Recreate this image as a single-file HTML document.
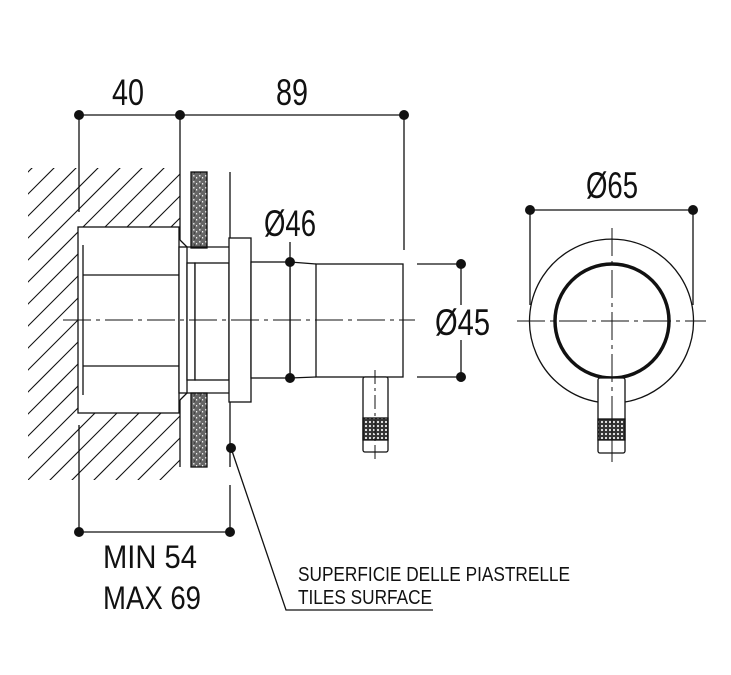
<!DOCTYPE html>
<html><head><meta charset="utf-8"><style>
html,body{margin:0;padding:0;background:#fff;width:731px;height:675px;overflow:hidden}
text{font-family:"Liberation Sans",sans-serif;fill:#111}
</style></head><body>
<svg width="731" height="675" viewBox="0 0 731 675" xmlns="http://www.w3.org/2000/svg">
<defs>
<clipPath id="wall"><path d="M28 168 H180 V227 H78 V413 H180 V480 H28 Z"/></clipPath>
<pattern id="spk" width="6" height="6" patternUnits="userSpaceOnUse">
<rect width="6" height="6" fill="#666"/><rect x="1" y="1" width="1.5" height="1.5" fill="#ddd"/><rect x="4" y="3" width="1.2" height="1.5" fill="#eee"/><rect x="2" y="4.5" width="1" height="1" fill="#222"/></pattern>
<pattern id="knurl" width="4" height="4" patternUnits="userSpaceOnUse"><rect width="4" height="4" fill="#333"/><circle cx="2" cy="2" r="1.1" fill="#eee"/></pattern>
</defs>
<g stroke="#111" stroke-width="1.3" fill="none">
<g clip-path="url(#wall)" stroke-width="1.1">
<line x1="-300" y1="500" x2="40" y2="160"/><line x1="-278" y1="500" x2="62" y2="160"/>
<line x1="-256" y1="500" x2="84" y2="160"/><line x1="-234" y1="500" x2="106" y2="160"/>
<line x1="-212" y1="500" x2="128" y2="160"/><line x1="-190" y1="500" x2="150" y2="160"/>
<line x1="-168" y1="500" x2="172" y2="160"/><line x1="-146" y1="500" x2="194" y2="160"/>
<line x1="-124" y1="500" x2="216" y2="160"/><line x1="-102" y1="500" x2="238" y2="160"/>
<line x1="-80" y1="500" x2="260" y2="160"/><line x1="-58" y1="500" x2="282" y2="160"/>
<line x1="-36" y1="500" x2="304" y2="160"/><line x1="-14" y1="500" x2="326" y2="160"/>
<line x1="8" y1="500" x2="348" y2="160"/><line x1="30" y1="500" x2="370" y2="160"/>
<line x1="52" y1="500" x2="392" y2="160"/><line x1="74" y1="500" x2="414" y2="160"/>
<line x1="96" y1="500" x2="436" y2="160"/><line x1="118" y1="500" x2="458" y2="160"/>
<line x1="140" y1="500" x2="480" y2="160"/><line x1="162" y1="500" x2="502" y2="160"/>
<line x1="184" y1="500" x2="524" y2="160"/><line x1="206" y1="500" x2="546" y2="160"/>
</g>
<rect x="191" y="172" width="16" height="76" fill="url(#spk)"/>
<rect x="191" y="393" width="16" height="74" fill="url(#spk)"/>
<line x1="79" y1="115" x2="79" y2="212"/><line x1="79" y1="425" x2="79" y2="532"/>
<line x1="180" y1="115" x2="180" y2="240"/><line x1="180" y1="400" x2="180" y2="467"/>
<line x1="404" y1="115" x2="404" y2="250"/>
<line x1="230" y1="172" x2="230" y2="467"/><line x1="230" y1="485" x2="230" y2="532"/>
<line x1="79" y1="115" x2="404" y2="115"/>
<line x1="79" y1="532" x2="230" y2="532"/>
<line x1="530" y1="210" x2="693" y2="210"/>
<line x1="530" y1="210" x2="530" y2="305"/><line x1="693" y1="210" x2="693" y2="305"/>
<line x1="290" y1="242" x2="290" y2="378"/>
<line x1="417" y1="264" x2="461" y2="264"/><line x1="417" y1="377" x2="461" y2="377"/>
<line x1="461" y1="264" x2="461" y2="305"/><line x1="461" y1="340" x2="461" y2="377"/>
<polyline points="231,448 286,610 433,610"/>
<rect x="78" y="227" width="101" height="186" fill="#fff"/>
<line x1="83" y1="275" x2="179" y2="275"/><line x1="83" y1="366" x2="179" y2="366"/>
<line x1="83" y1="245" x2="83" y2="395"/>
<polyline points="180,240 187,247 229,247"/><polyline points="180,400 187,393 229,393"/>
<rect x="179" y="247" width="8" height="146" fill="#fff"/>
<rect x="187" y="263" width="8" height="117" fill="#fff"/>
<rect x="195" y="263" width="34" height="117" fill="#fff"/>
<rect x="229" y="238" width="22" height="164" fill="#fff"/>
<rect x="251" y="262" width="39" height="116" fill="#fff"/>
<polyline points="290,262 316,264"/><polyline points="290,378 316,377"/>
<rect x="316" y="264" width="87" height="113" fill="#fff"/>
<rect x="363" y="377" width="25" height="75" rx="2" fill="#fff"/>
<rect x="363" y="418" width="25" height="22" fill="url(#knurl)"/>
<line x1="63" y1="320" x2="415" y2="320" stroke-dasharray="28,5,4,5" stroke-width="1"/>
<line x1="375" y1="370" x2="375" y2="462" stroke-dasharray="14,4,3,4" stroke-width="1"/>
<path d="M598 402 A82 82 0 1 1 625 402"/>
<circle cx="612" cy="321" r="57" stroke-width="3.5"/>
<rect x="598" y="378" width="27" height="75" rx="2" fill="#fff"/>
<rect x="598" y="419" width="27" height="21" fill="url(#knurl)"/>
<line x1="517" y1="321" x2="706" y2="321" stroke-dasharray="28,5,4,5" stroke-width="1"/>
<line x1="612" y1="228" x2="612" y2="462" stroke-dasharray="28,5,4,5" stroke-width="1"/>
</g>
<g fill="#111">
<circle cx="79" cy="115" r="5"/><circle cx="180" cy="115" r="5"/><circle cx="404" cy="115" r="5"/>
<circle cx="79" cy="532" r="5"/><circle cx="230" cy="532" r="5"/><circle cx="231" cy="448" r="5"/>
<circle cx="290" cy="262" r="5"/><circle cx="290" cy="378" r="5"/>
<circle cx="461" cy="264" r="5"/><circle cx="461" cy="377" r="5"/>
<circle cx="530" cy="210" r="5"/><circle cx="693" cy="210" r="5"/>
</g>
<text x="112" y="105" font-size="37" textLength="32" lengthAdjust="spacingAndGlyphs">40</text>
<text x="276" y="105" font-size="37" textLength="32" lengthAdjust="spacingAndGlyphs">89</text>
<text x="586" y="198" font-size="37" textLength="52" lengthAdjust="spacingAndGlyphs">Ø65</text>
<text x="264" y="236" font-size="37" textLength="52" lengthAdjust="spacingAndGlyphs">Ø46</text>
<text x="435" y="335" font-size="37" textLength="55" lengthAdjust="spacingAndGlyphs">Ø45</text>
<text x="103" y="568" font-size="32" textLength="94" lengthAdjust="spacingAndGlyphs">MIN 54</text>
<text x="103" y="609" font-size="32" textLength="98" lengthAdjust="spacingAndGlyphs">MAX 69</text>
<text x="298" y="581" font-size="20" textLength="272" lengthAdjust="spacingAndGlyphs">SUPERFICIE DELLE PIASTRELLE</text>
<text x="298" y="604" font-size="20" textLength="134" lengthAdjust="spacingAndGlyphs">TILES SURFACE</text>
</svg>
</body></html>
